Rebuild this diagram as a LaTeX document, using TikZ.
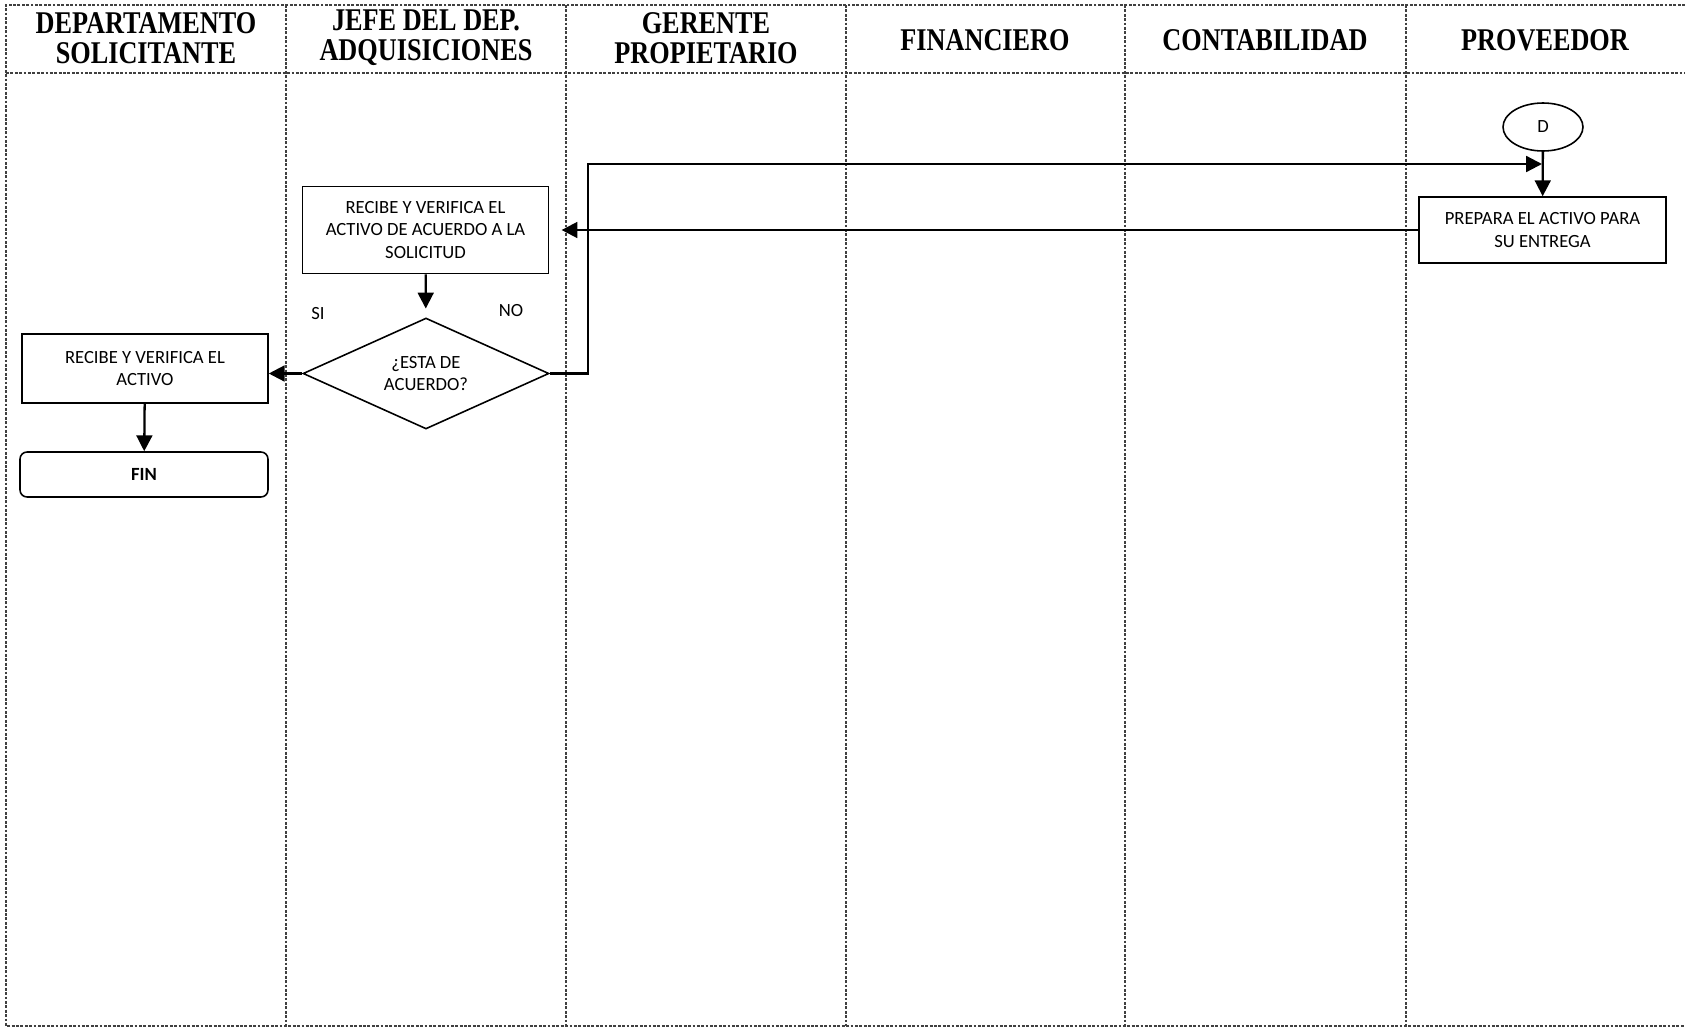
\documentclass[tikz,border=0pt]{standalone}
\usepackage{fontspec}
\setmainfont{Liberation Serif}
\newfontfamily\headfont[FakeStretch=0.83]{Liberation Serif}
\newfontfamily\carlito{Carlito}
\usetikzlibrary{shapes.geometric, arrows.meta, positioning}

\begin{document}
\begin{tikzpicture}[
    x=0.02cm, y=-0.02cm,
    lane/.style={draw=black!75, line width=0.6pt, dash pattern=on 1.6pt off 0.9pt},
    header/.style={align=center, font=\headfont\bfseries\fontsize{18}{17}\selectfont},
    process/.style={
        rectangle, draw, line width=0.9pt,
        minimum width=4.92cm, align=center,
        font=\carlito\fontsize{10.6}{12.8}\selectfont
    },
    decision/.style={
        diamond, draw, line width=0.9pt, aspect=2.2, inner sep=0pt,
        minimum width=4.92cm, minimum height=2.22cm,
        align=center, font=\carlito\fontsize{10.6}{12.8}\selectfont
    },
    terminal/.style={
        rectangle, rounded corners=4pt, draw, line width=0.9pt,
        minimum width=4.96cm, minimum height=0.9cm,
        font=\carlito\bfseries\fontsize{10.6}{12.8}\selectfont
    },
    connector/.style={
        ellipse, draw, line width=0.9pt,
        minimum width=1.6cm, minimum height=0.96cm,
        font=\carlito\fontsize{10.6}{12.8}\selectfont
    },
    tag/.style={font=\carlito\fontsize{10.6}{12.8}\selectfont},
    arrow/.style={-{Triangle[length=9pt, width=9pt]}, line width=1.3pt}
]
\useasboundingbox (0,0) rectangle (1685,1028);

% carriles
\draw [lane] (1685,5) -- (6,5) -- (6,1026) -- (1685,1026);
\draw [lane] (6,73) -- (1685,73);
\draw [lane] (286,5) -- (286,1026);
\draw [lane] (566,5) -- (566,1026);
\draw [lane] (846,5) -- (846,1026);
\draw [lane] (1125,5) -- (1125,1026);
\draw [lane] (1406,5) -- (1406,1026);

\node (hdep) [header] at (146,38) {DEPARTAMENTO\\SOLICITANTE};
\node (hjefe) [header] at (426,38) {JEFE DEL DEP.\\ADQUISICIONES};
\node (hger) [header] at (706,38) {GERENTE\\PROPIETARIO};
\node (hfin) [header] at (985,40) {FINANCIERO};
\node (hcont) [header] at (1265,40) {CONTABILIDAD};
\node (hprov) [header] at (1545,40) {PROVEEDOR};

% flujo
\node (conD) [connector] at (1543,127) {D};
\node (prepara) [process, minimum width=4.94cm, minimum height=1.32cm] at (1542.5,230) {PREPARA EL ACTIVO PARA\\SU ENTREGA};
\node (recibeJefe) [process, minimum height=1.74cm] at (425.5,230) {RECIBE Y VERIFICA EL\\ACTIVO DE ACUERDO A LA\\SOLICITUD};
\node (acuerdo) [decision] at (426,373.5) {¿ESTA DE\\ACUERDO?};
\node (recibeDep) [process, minimum height=1.38cm] at (145,368.5) {RECIBE Y VERIFICA EL\\ACTIVO};
\node (fin) [terminal] at (144,474.5) {FIN};
\node (si) [tag] at (318,314) {SI};
\node (no) [tag] at (511,311) {NO};
\coordinate (junta) at (1542,164);

\draw [arrow] (conD)--(prepara);
\draw [arrow, shorten >=7pt] (prepara.west)--(recibeJefe.east);
\draw [arrow, shorten >=5pt] (recibeJefe)--(acuerdo);
\draw [arrow] (acuerdo.west)--(acuerdo.west -| recibeDep.east);
\draw [arrow] (recibeDep)--(fin);
\draw [arrow] (acuerdo.east)--++(38,0)|-(junta);
\end{tikzpicture}
\end{document}
